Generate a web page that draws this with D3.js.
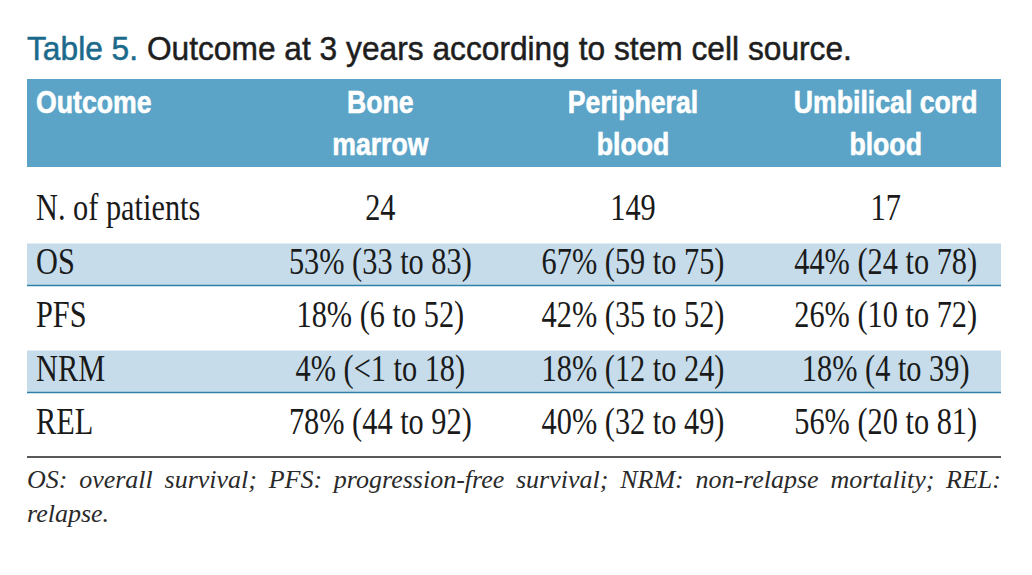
<!DOCTYPE html>
<html>
<head>
<meta charset="utf-8">
<script src="https://cdn.jsdelivr.net/npm/d3@7"></script>
<style>
  html, body { margin: 0; padding: 0; background: #fff; }
  svg { display: block; }
</style>
</head>
<body>
<svg id="chart" width="1032" height="575"></svg>
<script>
// ---- data ----
const titleLabel = "Table 5.";
const titleText = "Outcome at 3 years according to stem cell source.";
const headerFirst = "Outcome";
const columns = ["Bone marrow", "Peripheral blood", "Umbilical cord blood"];
const columnHeaderLines = [["Bone", "marrow"], ["Peripheral", "blood"], ["Umbilical cord", "blood"]];
const rows = ["N. of patients", "OS", "PFS", "NRM", "REL"];
const boneMarrow = ["24", "53% (33 to 83)", "18% (6 to 52)", "4% (<1 to 18)", "78% (44 to 92)"];
const peripheralBlood = ["149", "67% (59 to 75)", "42% (35 to 52)", "18% (12 to 24)", "40% (32 to 49)"];
const umbilicalCordBlood = ["17", "44% (24 to 78)", "26% (10 to 72)", "18% (4 to 39)", "56% (20 to 81)"];
const shadedRows = ["OS", "NRM"];
const footnoteLines = ["OS: overall survival; PFS: progression-free survival; NRM: non-relapse mortality; REL:", "relapse."];

const values = [boneMarrow, peripheralBlood, umbilicalCordBlood];

// ---- layout ----
const svg = d3.select("#chart");
const left = 27, right = 1001;
const serif = "'Liberation Serif', 'Times New Roman', serif";
const sans = "'Liberation Sans', Arial, sans-serif";

const x = d3.scaleBand().domain(columns).range([254, 1012]).padding(0);
const y = d3.scaleBand().domain(rows).range([190, 457.5]).padding(0);

function fitText(sel, width) {
  const w = sel.node().getComputedTextLength();
  return w > 0 ? width / w : 1;
}

// Title
const title = svg.append("text")
  .attr("font-family", sans)
  .attr("font-size", 33)
  .attr("stroke-width", 0.5)
  .attr("transform", `translate(${left},60)`);
title.append("tspan").attr("fill", "#1b6a8c").attr("stroke", "#1b6a8c").text(titleLabel + " ");
title.append("tspan").attr("fill", "#1e1e1e").attr("stroke", "#1e1e1e").text(titleText);
const ts = fitText(title, 825);
title.attr("transform", `translate(${left},60) scale(${ts},1)`);

// Header band
svg.append("rect")
  .attr("x", left).attr("y", 79)
  .attr("width", right - left).attr("height", 88)
  .attr("fill", "#5ba4c7");

const hdrSize = 31, hdrScale = 0.86;

function hdrText() {
  return svg.append("text")
    .attr("font-family", sans)
    .attr("font-size", hdrSize)
    .attr("font-weight", "bold")
    .attr("fill", "#fff")
    .attr("stroke", "#fff")
    .attr("stroke-width", 0.6);
}

hdrText()
  .attr("transform", `translate(36,113) scale(${hdrScale},1)`)
  .text(headerFirst);

columns.forEach((c, i) => {
  columnHeaderLines[i].forEach((line, j) => {
    hdrText()
      .attr("text-anchor", "middle")
      .attr("transform", `translate(${x(c) + x.bandwidth() / 2},${113 + j * 42}) scale(${hdrScale},1)`)
      .text(line);
  });
});

// Shaded rows
const bandH = 42;
shadedRows.forEach(r => {
  svg.append("rect")
    .attr("x", left).attr("y", y(r))
    .attr("width", right - left).attr("height", bandH)
    .attr("fill", "#c6dcea");
  svg.append("line")
    .attr("x1", left).attr("x2", right)
    .attr("y1", y(r) + bandH).attr("y2", y(r) + bandH)
    .attr("stroke", "#2f80a8").attr("stroke-width", 1.5);
});

// Body text
const bodySize = 37, bodyScale = 0.82;
rows.forEach((r, i) => {
  const base = y(r) + 30;
  svg.append("text")
    .attr("font-family", serif)
    .attr("font-size", bodySize)
    .attr("fill", "#1a1a1a")
    .attr("transform", `translate(36,${base}) scale(${bodyScale},1)`)
    .text(r);
  columns.forEach((c, k) => {
    svg.append("text")
      .attr("font-family", serif)
      .attr("font-size", bodySize)
      .attr("fill", "#1a1a1a")
      .attr("text-anchor", "middle")
      .attr("transform", `translate(${x(c) + x.bandwidth() / 2},${base}) scale(${bodyScale},1)`)
      .text(values[k][i]);
  });
});

// Bottom rule
svg.append("line")
  .attr("x1", left).attr("x2", right)
  .attr("y1", 457).attr("y2", 457)
  .attr("stroke", "#222").attr("stroke-width", 1.5);

// Footnote
const f1 = svg.append("text")
  .attr("font-family", serif)
  .attr("font-style", "italic")
  .attr("font-size", 26)
  .attr("fill", "#2a2a2a")
  .attr("x", left).attr("y", 488)
  .text(footnoteLines[0]);
const natural = f1.node().getComputedTextLength();
const gaps = footnoteLines[0].split(" ").length - 1;
if (natural < 974) f1.attr("word-spacing", (974 - natural) / gaps);
else f1.attr("textLength", 974).attr("lengthAdjust", "spacingAndGlyphs");
svg.append("text")
  .attr("font-family", serif)
  .attr("font-style", "italic")
  .attr("font-size", 26)
  .attr("fill", "#2a2a2a")
  .attr("x", left).attr("y", 522)
  .text(footnoteLines[1]);
</script>
</body>
</html>
